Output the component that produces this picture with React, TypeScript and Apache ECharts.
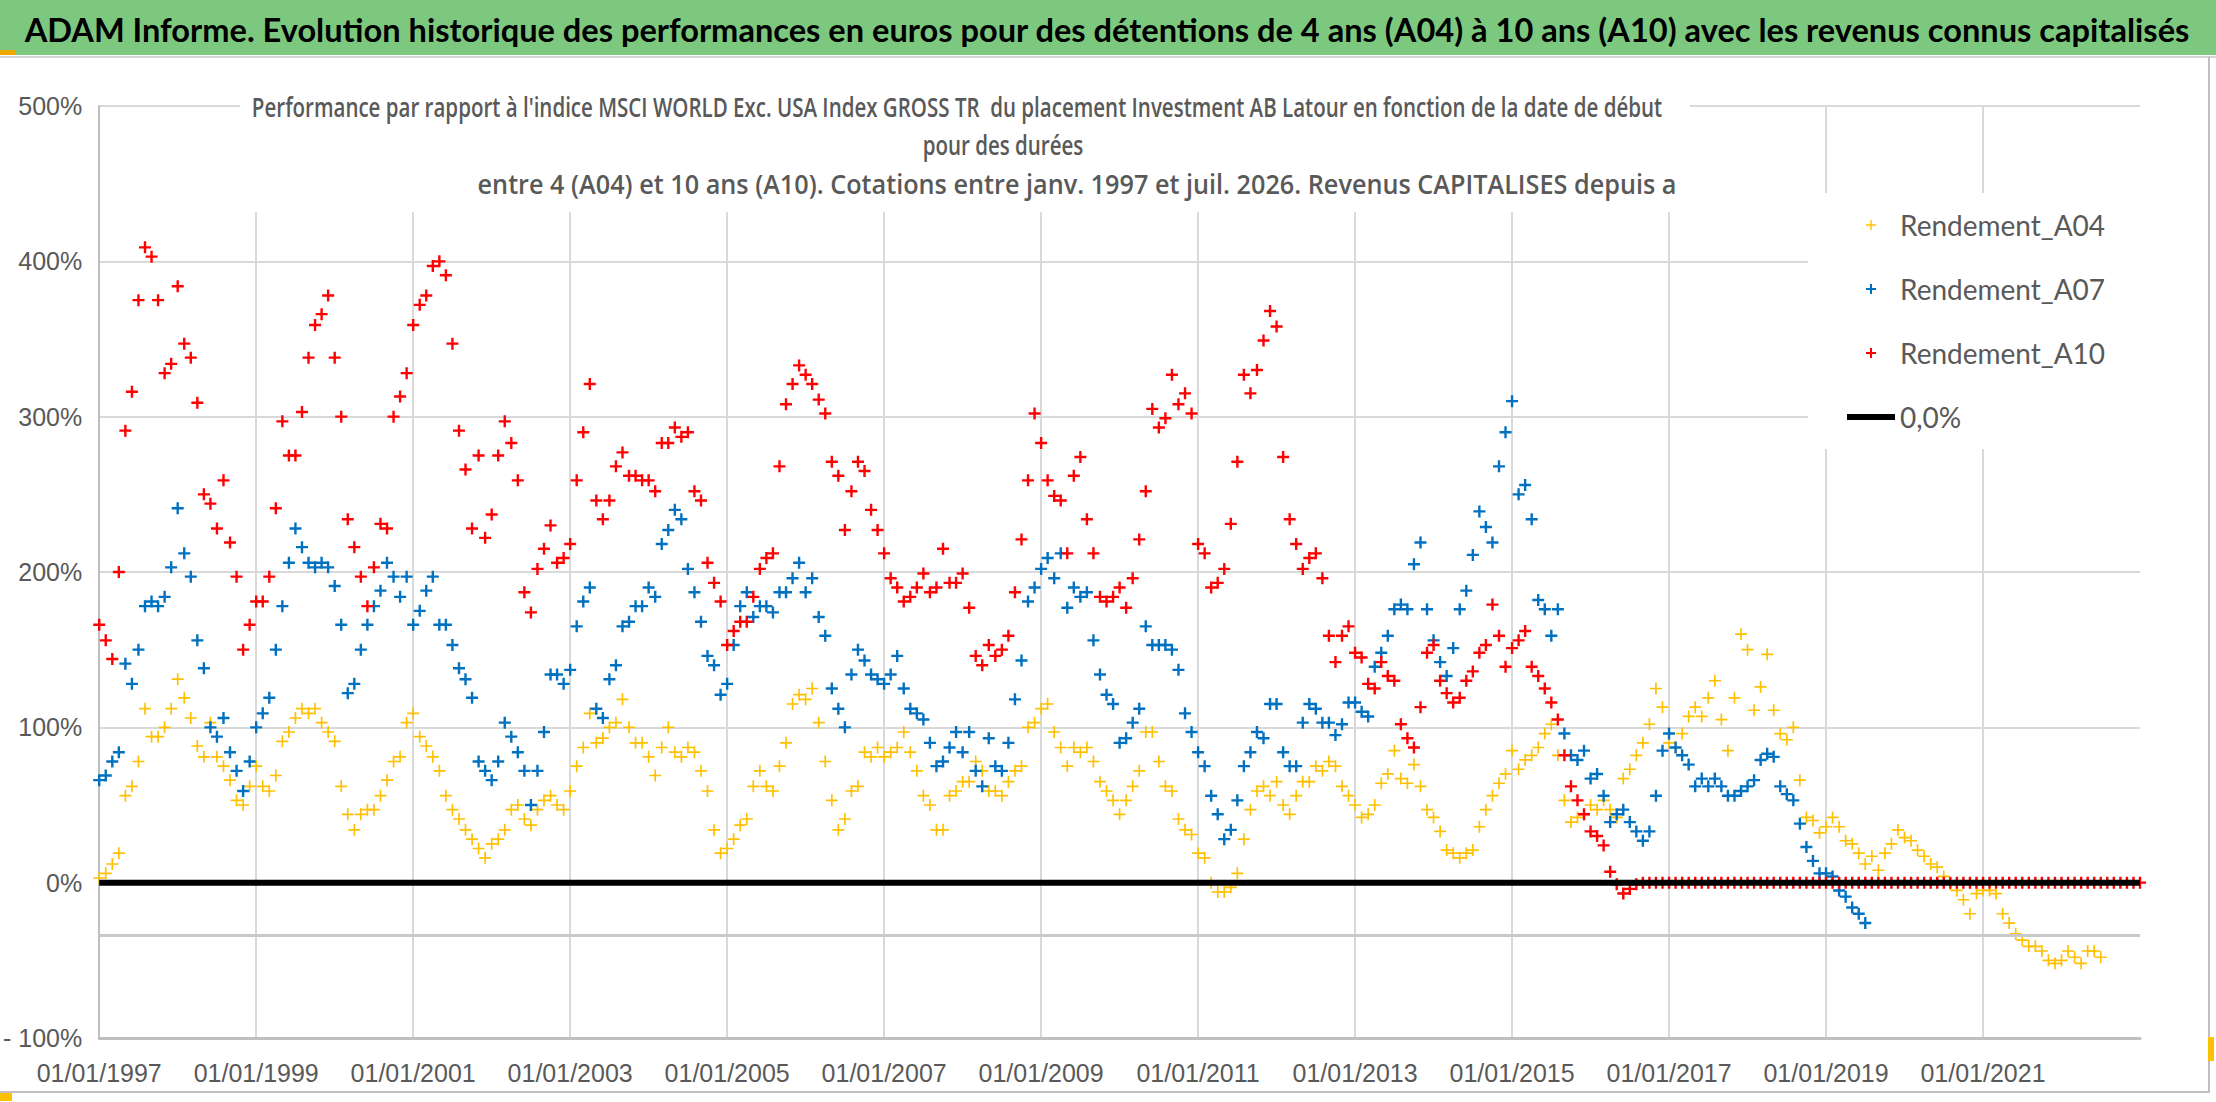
import * as echarts from 'echarts';
import { useEffect, useRef } from 'react';

// monthly readings, first value = January 1997
const START_YEAR = 1997;
const X_MIN = 1997;
const X_MAX = 2023;
const Y_TICKS = [-100, 0, 100, 200, 300, 400, 500];
// horizontal axis line of the original chart, crossing the value axis at about -34 %
const AXIS_CROSS = -34;

const A04 = [
  3, 6, 12, 19, 56, 62, 78, 112, 94, 94,
  100, 112, 131, 119, 106, 88, 81, 103, 81, 75,
  66, 53, 50, 62, 75, 62, 59, 69, 91, 97,
  106, 112, 109, 112, 103, 97, 91, 62, 44, 34,
  44, 47, 47, 56, 66, 78, 81, 103, 109, 94,
  88, 81, 72, 56, 47, 41, 34, 28, 22, 16,
  25, 28, 34, 47, 50, 41, 37, 47, 53, 56,
  50, 47, 59, 75, 87, 109, 90, 93, 100, 103,
  118, 100, 90, 90, 81, 69, 87, 100, 84, 81,
  87, 84, 72, 59, 34, 19, 22, 28, 37, 41,
  62, 72, 62, 59, 75, 90, 115, 121, 118, 125,
  103, 78, 53, 34, 41, 59, 62, 84, 81, 87,
  81, 84, 87, 97, 84, 72, 56, 50, 34, 34,
  56, 59, 65, 65, 78, 72, 59, 59, 56, 65,
  72, 75, 100, 103, 112, 115, 97, 87, 75, 87,
  84, 87, 78, 65, 59, 53, 44, 53, 62, 72,
  97, 97, 78, 62, 59, 41, 34, 31, 19, 16,
  0, -6, -6, -3, 6, 28, 47, 59, 62, 56,
  65, 50, 44, 56, 65, 65, 75, 72, 78, 75,
  62, 56, 50, 42, 44, 50, 64, 70, 85, 67,
  64, 76, 62, 47, 42, 33, 21, 19, 16, 19,
  21, 36, 47, 56, 64, 70, 85, 73, 79, 82,
  87, 96, 102, 82, 53, 39, 42, 44, 50, 47,
  53, 47, 42, 67, 73, 82, 90, 102, 125, 113,
  90, 87, 96, 107, 113, 107, 119, 130, 105, 85,
  119, 160, 150, 111, 126, 147, 111, 96, 92, 100,
  66, 42, 40, 32, 36, 42, 36, 27, 25, 19,
  12, 17, 8, 19, 25, 34, 29, 27, 21, 17,
  12, 10, 4, -1, -5, -11, -20, -7, -5, -5,
  -7, -20, -26, -33, -37, -41, -41, -44, -50, -52,
  -50, -44, -48, -52, -44, -44, -48,
];

const A07 = [
  66, 69, 78, 84, 141, 128, 150, 178, 181, 178,
  184, 203, 241, 212, 197, 156, 138, 100, 94, 106,
  84, 72, 59, 78, 100, 109, 119, 150, 178, 206,
  228, 216, 206, 203, 206, 203, 191, 166, 122, 128,
  150, 166, 178, 188, 206, 197, 184, 197, 166, 175,
  188, 197, 166, 166, 153, 138, 131, 119, 78, 72,
  66, 78, 103, 94, 84, 72, 50, 72, 97, 134,
  134, 128, 137, 165, 181, 190, 112, 106, 131, 140,
  165, 168, 178, 178, 190, 184, 218, 227, 240, 234,
  202, 187, 168, 146, 140, 121, 128, 153, 178, 187,
  171, 178, 178, 174, 187, 187, 196, 206, 187, 196,
  171, 159, 125, 112, 100, 134, 150, 143, 134, 131,
  128, 134, 146, 125, 112, 109, 105, 90, 75, 78,
  87, 97, 84, 97, 72, 62, 93, 75, 72, 90,
  118, 143, 181, 190, 202, 209, 196, 212, 177, 190,
  184, 187, 156, 134, 121, 115, 90, 93, 103, 112,
  165, 153, 153, 153, 150, 137, 109, 97, 84, 75,
  56, 44, 28, 34, 53, 75, 84, 97, 93, 115,
  115, 84, 75, 75, 103, 115, 112, 103, 103, 95,
  102, 116, 116, 110, 107, 139, 148, 159, 176, 179,
  176, 205, 219, 176, 156, 142, 133, 151, 176, 188,
  211, 239, 229, 219, 268, 290, 310, 250, 256, 234,
  182, 176, 159, 176, 96, 82, 79, 85, 67, 70,
  56, 39, 44, 47, 39, 33, 27, 33, 56, 85,
  96, 87, 82, 76, 62, 67, 62, 67, 62, 56,
  56, 59, 62, 66, 79, 83, 81, 62, 57, 53,
  38, 23, 14, 6, 6, 4, -5, -9, -16, -20,
  -26,
];

const A10 = [
  166, 156, 144, 200, 291, 316, 375, 409, 403, 375,
  328, 334, 384, 347, 338, 309, 250, 244, 228, 259,
  219, 197, 150, 166, 181, 181, 197, 241, 297, 275,
  275, 303, 338, 359, 366, 378, 338, 300, 234, 216,
  197, 178, 203, 231, 228, 300, 313, 328, 359, 372,
  378, 397, 400, 391, 347, 291, 266, 228, 275, 222,
  237, 275, 297, 283, 259, 187, 174, 202, 215, 230,
  206, 209, 218, 259, 290, 321, 246, 234, 246, 268,
  277, 262, 262, 259, 259, 252, 283, 283, 293, 287,
  290, 252, 246, 206, 193, 181, 153, 162, 168, 168,
  184, 202, 209, 212, 268, 308, 321, 333, 327, 321,
  311, 302, 271, 262, 227, 252, 271, 265, 240, 227,
  212, 196, 190, 181, 184, 190, 199, 187, 190, 215,
  193, 193, 199, 177, 146, 140, 153, 146, 150, 159,
  187, 221, 259, 302, 283, 259, 249, 246, 212, 262,
  274, 234, 212, 184, 181, 184, 190, 177, 196, 221,
  252, 305, 293, 299, 327, 308, 315, 302, 218, 212,
  190, 193, 202, 231, 271, 327, 315, 330, 349, 368,
  358, 274, 234, 218, 202, 209, 212, 196, 159, 142,
  159, 165, 148, 145, 128, 125, 142, 133, 130, 102,
  93, 87, 113, 148, 153, 130, 122, 116, 119, 130,
  136, 148, 153, 179, 159, 139, 151, 156, 162, 139,
  133, 125, 116, 105, 82, 62, 53, 44, 33, 30,
  24, 7, -1, -7, -4, -1, 0, 0, 0, 0,
  0, 0, 0, 0, 0, 0, 0, 0, 0, 0,
  0, 0, 0, 0, 0, 0, 0, 0, 0, 0,
  0, 0, 0, 0, 0, 0, 0, 0, 0, 0,
  0, 0, 0, 0, 0, 0, 0, 0, 0, 0,
  0, 0, 0, 0, 0, 0, 0, 0, 0, 0,
  0, 0, 0, 0, 0, 0, 0, 0, 0, 0,
  0, 0, 0, 0, 0, 0, 0, 0, 0, 0,
  0, 0, 0,
];

const ZERO_LINE = [
  [X_MIN, 0],
  [X_MAX, 0],
];

const SERIES_NAMES = ['Rendement_A04', 'Rendement_A07', 'Rendement_A10', '0,0%'];
const COLORS = ['#FFC000', '#0070C0', '#FF0000', '#000000'];

const TITLE =
  'ADAM Informe. Evolution historique des performances en euros pour des détentions de 4 ans (A04) à 10 ans (A10) avec les revenus connus capitalisés';
const SUBTITLE = [
  "Performance par rapport à l'indice MSCI WORLD Exc. USA Index GROSS TR  du placement Investment AB Latour en fonction de la date de début",
  'pour des durées',
  'entre 4 (A04) et 10 ans (A10). Cotations entre janv. 1997 et juil. 2026. Revenus CAPITALISES depuis a',
];
// where each subtitle line sits, and how much it is squeezed
const SUB_X = [957, 1003, 1077];
const SUB_Y = [106, 144, 184];
const SUB_SCALE = [0.76, 0.76, 0.935];

const PLUS = 'path://M4,0H6V4H10V6H6V10H4V6H0V4H4Z';
const PLUS_THIN = 'path://M4.3,0H5.7V4.3H10V5.7H5.7V10H4.3V5.7H0V4.3H4.3Z';
const BAR = 'path://M0,0H48V6H0Z';

const AXIS_FONT = "'Liberation Sans Narrow', 'Liberation Sans', sans-serif";

const toPoints = (values: number[]) => values.map((v, i) => [START_YEAR + i / 12, v]);

const App = () => {
  const chartRef = useRef<HTMLDivElement>(null);

  useEffect(() => {
    if (!chartRef.current) return;
    const chart = echarts.init(chartRef.current, null, { renderer: 'svg' });

    const scatter = (name: string, values: number[], color: string, symbol: string) => ({
      name,
      type: 'scatter',
      data: toPoints(values),
      symbol,
      symbolSize: 12,
      itemStyle: { color, opacity: 1 },
      emphasis: { disabled: true },
    });

    const option: echarts.EChartsOption = {
      animation: false,
      backgroundColor: '#ffffff',
      grid: { left: 97, top: 106, width: 2043, height: 932 },
      xAxis: {
        type: 'value',
        min: X_MIN,
        max: X_MAX,
        interval: 2,
        axisLine: { onZero: false, lineStyle: { color: '#BFBFBF', width: 3 } },
        axisTick: { show: false },
        splitLine: { show: true, showMaxLine: false, lineStyle: { color: '#D9D9D9', width: 2 } },
        axisLabel: {
          margin: 22,
          showMaxLabel: false,
          fontFamily: AXIS_FONT,
          fontSize: 25,
          color: '#595959',
          formatter: (v: number) => `01/01/${v}`,
        },
      },
      yAxis: {
        type: 'value',
        min: Y_TICKS[0],
        max: Y_TICKS[Y_TICKS.length - 1],
        interval: 100,
        axisLine: { show: true, lineStyle: { color: '#BFBFBF', width: 2 } },
        axisTick: { show: false },
        splitLine: { lineStyle: { color: '#D9D9D9', width: 2 } },
        axisLabel: {
          margin: 17,
          fontFamily: AXIS_FONT,
          fontSize: 25,
          color: '#595959',
          formatter: (v: number) => (v < 0 ? `- ${-v}%` : `${v}%`),
        },
      },
      legend: {
        orient: 'vertical',
        left: 1808,
        top: 193,
        padding: [18, 40, 18, 39],
        itemGap: 36,
        itemWidth: 48,
        itemHeight: 10,
        backgroundColor: '#ffffff',
        textStyle: { fontFamily: 'Lato', fontSize: 28, lineHeight: 28, color: '#595959' },
        data: [
          { name: SERIES_NAMES[0], icon: PLUS_THIN },
          { name: SERIES_NAMES[1], icon: PLUS },
          { name: SERIES_NAMES[2], icon: PLUS },
          { name: SERIES_NAMES[3], icon: BAR },
        ],
      },
      graphic: [
        { type: 'rect', shape: { x: 0, y: 0, width: 2216, height: 55 }, style: { fill: '#7DC87F' } },
        { type: 'rect', shape: { x: 0, y: 56, width: 2216, height: 2 }, style: { fill: '#D4D4D4' } },
        { type: 'rect', shape: { x: 0, y: 50, width: 15, height: 5 }, style: { fill: '#F0A800' } },
        {
          type: 'text',
          x: 1107,
          y: 29,
          style: {
            text: TITLE,
            fontFamily: 'Lato',
            fontWeight: 'bold',
            fontSize: 32.6,
            fill: '#000000',
            align: 'center',
            verticalAlign: 'middle',
          },
        },
        { type: 'rect', z: 1, shape: { x: 240, y: 96, width: 1450, height: 116 }, style: { fill: '#ffffff' } },
        ...SUBTITLE.map((t, i) => ({
          type: 'text',
          z: 2,
          x: SUB_X[i],
          y: SUB_Y[i],
          scaleX: SUB_SCALE[i],
          style: {
            text: t,
            fontFamily: 'Open Sans',
            fontWeight: 600,
            fontSize: 27,
            fill: '#595959',
            align: 'center',
            verticalAlign: 'middle',
          },
        })),
        { type: 'rect', shape: { x: 2208, y: 57, width: 2, height: 1036 }, style: { fill: '#BFBFBF' } },
        { type: 'rect', shape: { x: 0, y: 1091, width: 2210, height: 2 }, style: { fill: '#BFBFBF' } },
        { type: 'rect', shape: { x: 2208, y: 1037, width: 6, height: 24 }, style: { fill: '#FFC000' } },
        { type: 'rect', shape: { x: 0, y: 1093, width: 12, height: 8 }, style: { fill: '#FFC000' } },
      ],
      series: [
        {
          name: SERIES_NAMES[3],
          type: 'line',
          data: ZERO_LINE,
          symbol: 'none',
          lineStyle: { color: COLORS[3], width: 6 },
          itemStyle: { color: COLORS[3] },
          markLine: {
            silent: true,
            symbol: ['none', 'none'],
            label: { show: false },
            lineStyle: { color: '#C9C9C9', width: 3, type: 'solid' },
            data: [{ yAxis: AXIS_CROSS }],
          },
        },
        scatter(SERIES_NAMES[0], A04, COLORS[0], PLUS_THIN),
        scatter(SERIES_NAMES[1], A07, COLORS[1], PLUS),
        scatter(SERIES_NAMES[2], A10, COLORS[2], PLUS),
      ],
    };

    chart.setOption(option);
    return () => {
      chart.dispose();
    };
  }, []);

  return (
    <div
      ref={chartRef}
      style={{ position: 'absolute', left: 0, top: 0, width: 2216, height: 1102, background: '#fff' }}
    />
  );
};

export default App;
